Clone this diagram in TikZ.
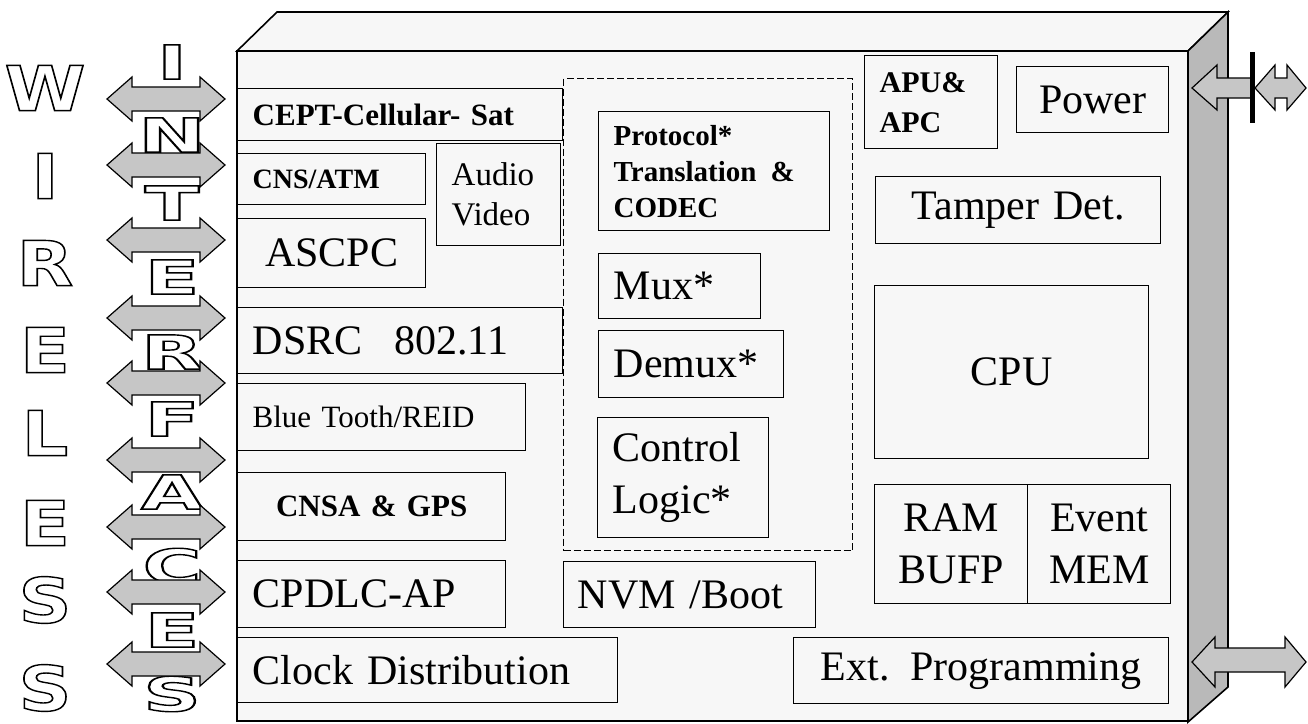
\documentclass[tikz,border=0pt]{standalone}
\usepackage{fontspec}
\usepackage{graphicx}
\setmainfont{Liberation Serif}
\newfontfamily\lettersf{DejaVu Sans}
\newcommand{\hollow}[1]{\special{pdf:literal direct 1 Tr 1.4 w}#1\special{pdf:literal direct 0 Tr}}

\tikzset{
	dblarrow/.pic={
		\draw[line width=1.2pt,fill=gray!45] (-59,0) -- (-34,-22) -- (-34,-12) -- (34,-12) -- (34,-22) -- (59,0)
			-- (34,22) -- (34,12) -- (-34,12) -- (-34,22) -- cycle;
	}
}

\begin{document}
\begin{tikzpicture}[x=1pt,y=-1pt,
	blk/.style={draw=black,line width=1.4pt,anchor=north west,inner xsep=15pt,inner ysep=0pt,align=left},
	big/.style={font=\fontsize{42}{52}\selectfont},
	ltra/.style={inner sep=0pt,font=\lettersf\bfseries\fontsize{62}{62}\selectfont},
	ltrb/.style={inner sep=0pt,font=\lettersf\bfseries\fontsize{47}{47}\selectfont}]
	\useasboundingbox (0,0) rectangle (1308,723);

	% housing
	\draw[line width=1.6pt,fill=gray!6] (237,51) -- (277,12) -- (1228,12) -- (1188,51) -- cycle;
	\draw[line width=1.6pt,fill=gray!6] (237,51) rectangle (1188,721);
	\draw[line width=1.6pt,fill=gray!55] (1188,51) -- (1228,12) -- (1228,687) -- (1188,722) -- cycle;

	% left column
	\node[blk,minimum height=52pt,text width=295pt,font=\bfseries\fontsize{31}{38}\selectfont] (cept) at (237,88) {CEPT-Cellular- Sat};
	\node[blk,minimum height=51pt,text width=158pt,font=\bfseries\fontsize{28}{34}\selectfont] (cnsatm) at (237,153) {CNS/ATM};
	\node[blk,minimum height=102pt,text width=94pt,inner xsep=15pt,font=\fontsize{33}{40}\selectfont] (audio) at (436,143) {Audio\\Video};
	\node[blk,big,minimum height=69pt,text width=158pt,align=center] (ascpc) at (237,218) {ASCPC};
	\node[blk,big,minimum height=66pt,text width=295pt] (dsrc) at (237,307) {DSRC\hspace{32pt}802.11};
	\node[blk,minimum height=67pt,text width=258pt,font=\fontsize{31}{38}\selectfont] (blue) at (237,383) {Blue Tooth/REID};
	\node[blk,minimum height=68pt,text width=238pt,align=center,font=\bfseries\fontsize{31}{38}\selectfont] (cnsa) at (237,472) {CNSA \& GPS};
	\node[blk,big,minimum height=67pt,text width=238pt] (cpdlc) at (237,560) {CPDLC-AP};
	\node[blk,big,minimum height=65pt,text width=350pt] (clock) at (237,637) {Clock Distribution};

	% middle
	\node[draw=black,line width=1.3pt,dash pattern=on 7pt off 3pt,anchor=north west,inner sep=0pt,minimum width=289pt,minimum height=472pt] (core) at (563,78) {};
	\node[blk,minimum height=119pt,text width=201pt,font=\bfseries\fontsize{29}{36}\selectfont] (proto) at (598,111) {Protocol*\\Translation\hspace{14pt}\&\\CODEC};
	\node[blk,big,minimum height=65pt,text width=132pt] (mux) at (598,253) {Mux*};
	\node[blk,big,minimum height=67pt,text width=155pt] (demux) at (598,330) {Demux*};
	\node[blk,big,minimum height=120pt,text width=141pt] (ctrl) at (597,417) {Control\\Logic*};
	\node[blk,big,minimum height=66pt,text width=224pt,inner xsep=14pt] (nvm) at (563,561) {NVM /Boot};
	\node[blk,big,minimum height=66pt,text width=345pt,align=center] (ext) at (793,637) {Ext. Programming};

	% right column
	\node[blk,minimum height=93pt,text width=103pt,font=\bfseries\fontsize{30}{40}\selectfont] (apu) at (864,55) {APU\&\\APC};
	\node[blk,big,minimum height=66pt,text width=122pt,align=center] (power) at (1016,66) {Power};
	\node[blk,big,minimum height=67pt,text width=255pt,align=center] (tamper) at (875,176) {Tamper Det.};
	\node[blk,big,minimum height=173pt,text width=244pt,align=center] (cpu) at (874,285) {CPU};
	\node[blk,big,minimum height=119pt,text width=123pt,align=center] (ram) at (874,484) {RAM\\BUFP};
	\node[blk,big,minimum height=119pt,text width=113pt,align=center] (event) at (1027,484) {Event\\MEM};

	% WIRELESS
	\node[ltra] (w1) at (45,88)  {\scalebox{1.18}[1]{\hollow{W}}};
	\node[ltra] (w2) at (45,176) {\scalebox{1.18}[1]{\hollow{I}}};
	\node[ltra] (w3) at (45,263) {\scalebox{1.18}[1]{\hollow{R}}};
	\node[ltra] (w4) at (45,350) {\scalebox{1.18}[1]{\hollow{E}}};
	\node[ltra] (w5) at (45,433) {\scalebox{1.18}[1]{\hollow{L}}};
	\node[ltra] (w6) at (45,523) {\scalebox{1.18}[1]{\hollow{E}}};
	\node[ltra] (w7) at (45,600) {\scalebox{1.18}[1]{\hollow{S}}};
	\node[ltra] (w8) at (45,688) {\scalebox{1.18}[1]{\hollow{S}}};

	% INTERFACES
	\node[ltrb] (i1)  at (172,62)  {\scalebox{1.7}[1]{\hollow{I}}};
	\node[ltrb] (i2)  at (172,135) {\scalebox{1.7}[1]{\hollow{N}}};
	\node[ltrb] (i3)  at (172,203) {\scalebox{1.7}[1]{\hollow{T}}};
	\node[ltrb] (i4)  at (172,277) {\scalebox{1.7}[1]{\hollow{E}}};
	\node[ltrb] (i5)  at (172,352) {\scalebox{1.7}[1]{\hollow{R}}};
	\node[ltrb] (i6)  at (172,419) {\scalebox{1.7}[1]{\hollow{F}}};
	\node[ltrb] (i7)  at (172,492) {\scalebox{1.7}[1]{\hollow{A}}};
	\node[ltrb] (i8)  at (172,566) {\scalebox{1.7}[1]{\hollow{C}}};
	\node[ltrb] (i9)  at (172,630) {\scalebox{1.7}[1]{\hollow{E}}};
	\node[ltrb] (i10) at (172,694) {\scalebox{1.7}[1]{\hollow{S}}};

	% wireless links
	\pic at (166,99)  {dblarrow};
	\pic at (166,165) {dblarrow};
	\pic at (166,240) {dblarrow};
	\pic at (166,318) {dblarrow};
	\pic at (166,383) {dblarrow};
	\pic at (166,460) {dblarrow};
	\pic at (166,527) {dblarrow};
	\pic at (166,592) {dblarrow};
	\pic at (166,664) {dblarrow};

	% power and programming ports
	\draw[line width=1.2pt,fill=gray!45] (1192,88) -- (1217,65) -- (1217,78) -- (1252,78) -- (1252,98) -- (1217,98) -- (1217,110) -- cycle;
	\fill[black] (1250,52) rectangle (1255,123);
	\draw[line width=1.2pt,fill=gray!45] (1255,88) -- (1275,65) -- (1275,78) -- (1287,78) -- (1287,65) -- (1306,88)
		-- (1287,110) -- (1287,98) -- (1275,98) -- (1275,110) -- cycle;
	\draw[line width=1.2pt,fill=gray!45] (1192,662) -- (1215,637) -- (1215,648) -- (1285,648) -- (1285,637) -- (1306,662)
		-- (1285,687) -- (1285,672) -- (1215,672) -- (1215,687) -- cycle;
\end{tikzpicture}
\end{document}
